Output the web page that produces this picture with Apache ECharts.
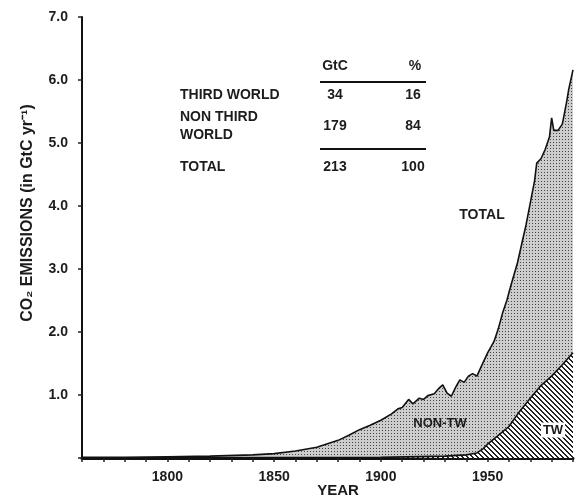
<!DOCTYPE html>
<html>
<head>
<meta charset="utf-8">
<script src="https://cdn.jsdelivr.net/npm/echarts@6/dist/echarts.min.js"></script>
<style>
html,body{margin:0;padding:0;background:#fff;}
#chart{width:576px;height:501px;}
</style>
</head>
<body>
<div id="chart"></div>
<script>
// ---- data ----
var totalYears  = [1760,1780,1800,1820,1840,1850,1860,1870,1880,1885,1890,1895,1900,1905,1908,1910,1913,1915,1918,1920,1922,1925,1927,1929,1931,1933,1935,1937,1939,1941,1943,1945,1947,1950,1953,1955,1957,1959,1961,1964,1966,1968,1970,1972,1973,1975,1977,1979,1980,1981,1983,1985,1987,1988,1990];
var totalValues = [0.01,0.01,0.02,0.03,0.05,0.07,0.11,0.17,0.28,0.36,0.45,0.52,0.60,0.70,0.78,0.80,0.93,0.86,0.95,0.93,0.99,1.02,1.10,1.16,1.03,0.98,1.12,1.24,1.20,1.30,1.34,1.30,1.45,1.67,1.85,2.05,2.30,2.50,2.75,3.10,3.40,3.70,4.05,4.40,4.68,4.75,4.90,5.10,5.40,5.20,5.20,5.30,5.65,5.85,6.16];
var twYears  = [1760,1900,1930,1940,1945,1948,1950,1955,1960,1965,1970,1975,1980,1985,1990];
var twValues = [0,0.01,0.03,0.05,0.08,0.15,0.22,0.36,0.50,0.74,0.95,1.15,1.30,1.48,1.67];
var xTickLabels = [1800,1850,1900,1950];
var yTickLabels = ['1.0','2.0','3.0','4.0','5.0','6.0','7.0'];
var tableHeader = ['GtC','%'];
var tableRows = [
  {name:['THIRD WORLD'], gtc:'34', pct:'16'},
  {name:['NON THIRD','WORLD'], gtc:'179', pct:'84'},
  {name:['TOTAL'], gtc:'213', pct:'100'}
];
var areaLabels = ['TOTAL','NON-TW','TW'];

function zip(xs, ys){ return xs.map(function(x,i){return [x, ys[i]];}); }

function dotPattern(){
  var c=document.createElement('canvas'); c.width=3; c.height=3;
  var g=c.getContext('2d');
  g.fillStyle='#cdcdcd'; g.fillRect(0,0,3,3);
  g.fillStyle='#444444'; g.fillRect(1,1,1,1);
  return c;
}
function hatchPattern(){
  var n=5, c=document.createElement('canvas'); c.width=n; c.height=n;
  var g=c.getContext('2d');
  g.fillStyle='#ffffff'; g.fillRect(0,0,n,n);
  g.fillStyle='#222222';
  for(var i=0;i<n;i++){ g.fillRect(i,i,1,1); g.fillRect((i+1)%n,i,1,1); }
  return c;
}

var FONT = '"Liberation Sans", Arial, sans-serif';
var TXT = '#1c1c1c';
var chart = echarts.init(document.getElementById('chart'), null, {renderer:'canvas'});

function txt(x, y, s, size, align, extra){
  var o = {type:'text', x:x, y:y, z:100,
    style:{text:s, font:'bold '+size+'px '+FONT, fill:TXT, align:align||'center', verticalAlign:'middle'}};
  if (extra) { for (var k in extra) o.style[k] = extra[k]; }
  return o;
}

var graphics = [];
// y axis title
var yt = txt(28, 213, 'CO\u2082 EMISSIONS (in GtC yr\u207B\u00B9)', 16);
yt.rotation = Math.PI/2;
graphics.push(yt);
// x axis title
graphics.push(txt(338, 491, 'YEAR', 15));
// table
var colX = [335, 415];
graphics.push(txt(colX[0], 66, tableHeader[0], 14));
graphics.push(txt(colX[1], 66, tableHeader[1], 14));
graphics.push({type:'line', shape:{x1:320,y1:82,x2:426,y2:82}, style:{stroke:'#111', lineWidth:2}});
graphics.push({type:'line', shape:{x1:320,y1:149,x2:426,y2:149}, style:{stroke:'#111', lineWidth:2}});
var rowY = [95, 126, 167];
tableRows.forEach(function(r, i){
  var y = rowY[i];
  if (r.name.length === 1) {
    graphics.push(txt(180, y, r.name[0], 14, 'left'));
  } else {
    graphics.push(txt(180, y-9, r.name[0], 14, 'left'));
    graphics.push(txt(180, y+9, r.name[1], 14, 'left'));
  }
  graphics.push(txt(colX[0], y, r.gtc, 14));
  graphics.push(txt(colX[1]-2, y, r.pct, 14));
});
// area labels
graphics.push(txt(482, 215, areaLabels[0], 14));
graphics.push(txt(440, 423, areaLabels[1], 13));
graphics.push(txt(553, 430, areaLabels[2], 13, 'center', {backgroundColor:'#ffffff', padding:[1,2]}));

var option = {
  animation:false,
  backgroundColor:'#ffffff',
  grid:{left:82, right:0, top:17, bottom:43},
  xAxis:[{
    type:'value', min:1760, max:1990, interval:10,
    axisLine:{show:true, onZero:false, lineStyle:{color:'#111', width:3}},
    axisTick:{show:true, inside:false, length:4, lineStyle:{color:'#222', width:1.5}},
    axisLabel:{margin:12, color:TXT, fontFamily:FONT, fontWeight:'bold', fontSize:14,
      formatter:function(v){ return xTickLabels.indexOf(v) >= 0 ? String(v) : ''; }},
    splitLine:{show:false}
  },{
    type:'value', position:'top', min:1760, max:1990,
    axisLine:{show:true, lineStyle:{color:'#111', width:2}},
    axisTick:{show:false}, axisLabel:{show:false}, splitLine:{show:false}
  }],
  yAxis:{
    type:'value', min:0, max:7, interval:1,
    axisLine:{show:true, lineStyle:{color:'#111', width:2}},
    axisTick:{show:true, inside:false, length:4, lineStyle:{color:'#222', width:1.5}},
    axisLabel:{margin:14, color:TXT, fontFamily:FONT, fontWeight:'bold', fontSize:14,
      formatter:function(v){ return v === 0 ? '' : yTickLabels[Math.round(v)-1]; }},
    splitLine:{show:false}
  },
  graphic:graphics,
  series:[{
    name:'TOTAL', type:'line', xAxisIndex:0, data:zip(totalYears,totalValues),
    showSymbol:false, smooth:false, z:2,
    lineStyle:{color:'#111', width:1.6},
    areaStyle:{color:{image:dotPattern(), repeat:'repeat'}, opacity:1}
  },{
    name:'TW', type:'line', xAxisIndex:0, data:zip(twYears,twValues),
    showSymbol:false, smooth:false, z:3,
    lineStyle:{color:'#111', width:1.6},
    areaStyle:{color:{image:hatchPattern(), repeat:'repeat'}, opacity:1}
  }]
};
chart.setOption(option);
</script>
</body>
</html>
